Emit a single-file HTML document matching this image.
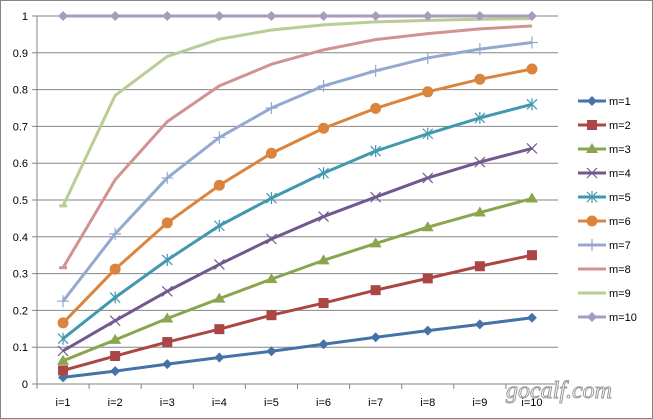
<!DOCTYPE html>
<html><head><meta charset="utf-8"><style>
html,body{margin:0;padding:0;background:#fff;}
svg{display:block;font-family:"Liberation Sans",sans-serif;}
</style></head><body>
<svg id="chart" width="653" height="419">
<rect x="0.5" y="0.5" width="652" height="418" fill="#fff" stroke="#868686"/>
<g id="grid"></g><g id="axes"></g><g id="series"></g><g id="legend"></g>
<text x="506" y="398" font-size="24" font-style="italic" fill="#fff" stroke="#999" stroke-width="1" font-family="'Liberation Serif',serif">gocalf.com</text>
</svg>
<script>
const categories=["i=1","i=2","i=3","i=4","i=5","i=6","i=7","i=8","i=9","i=10"];
const yTicks=[0,0.1,0.2,0.3,0.4,0.5,0.6,0.7,0.8,0.9,1];
const yTickLabels=["0","0.1","0.2","0.3","0.4","0.5","0.6","0.7","0.8","0.9","1"];
const seriesNames=["m=1","m=2","m=3","m=4","m=5","m=6","m=7","m=8","m=9","m=10"];
const m1=[.018,.035,.054,.072,.089,.108,.127,.145,.162,.180];
const m2=[.037,.076,.114,.149,.187,.220,.255,.287,.320,.350];
const m3=[.063,.120,.178,.232,.285,.336,.382,.426,.466,.504];
const m4=[.090,.172,.252,.325,.394,.455,.508,.560,.603,.640];
const m5=[.123,.235,.337,.430,.505,.573,.633,.680,.723,.760];
const m6=[.166,.312,.438,.540,.627,.695,.749,.794,.828,.856];
const m7=[.225,.408,.560,.670,.750,.810,.851,.886,.910,.928];
const m8=[.316,.555,.713,.810,.869,.908,.936,.952,.965,.973];
const m9=[.484,.784,.890,.937,.962,.976,.984,.988,.991,.993];
const m10=[1,1,1,1,1,1,1,1,1,1];
const allSeries=[m1,m2,m3,m4,m5,m6,m7,m8,m9,m10];
const colors=["#4572a7","#aa4643","#89a54e","#71588f","#4198af","#db843d","#93a9cf","#d19392","#b9cd96","#a99bbd"];
const markers=["diamond","square","triangle","x","star","circle","plus","none","none","diamond"];
const NS="http://www.w3.org/2000/svg";
const L=37,R=558,T=16,B=384;
const step=(R-L)/categories.length;
const xS=i=>L+step*(i+0.5);
const yS=v=>B-(B-T)*v;
function mk(tag,attrs,parent){const e=document.createElementNS(NS,tag);for(const k in attrs)e.setAttribute(k,attrs[k]);parent.appendChild(e);return e;}
const grid=document.getElementById('grid'),axes=document.getElementById('axes'),ser=document.getElementById('series'),leg=document.getElementById('legend');
yTicks.forEach((t,i)=>{
 const y=yS(t);
 if(t>0){const g=mk('line',{x1:L,x2:R,y1:y,y2:y,stroke:'#868686','stroke-width':1},grid);
 
 }
 const tk=mk('line',{x1:L-5,x2:L,y1:y,y2:y,stroke:'#868686'},axes);
 
 
 const tx=mk('text',{x:L-9,y:y+4,'text-anchor':'end','font-size':11,fill:'#000'},axes);
 tx.textContent=yTickLabels[i];
 
 
});
const ya=mk('line',{x1:L,x2:L,y1:T,y2:B,stroke:'#868686'},axes);


const xa=mk('line',{x1:L,x2:R,y1:B,y2:B,stroke:'#868686'},axes);


for(let i=0;i<=categories.length;i++){
 const x=L+step*i;
 const tk=mk('line',{x1:x,x2:x,y1:B,y2:B+5,stroke:'#868686'},axes);
 
 
}
categories.forEach((c,i)=>{
 const tx=mk('text',{x:xS(i),y:B+22,'text-anchor':'middle','font-size':11,fill:'#000'},axes);
 tx.textContent=c;
 
 
});
function marker(type,x,y,col,parent){
 let e=null;
 if(type==='diamond')e=mk('path',{d:`M${x} ${y-5}L${x+5} ${y}L${x} ${y+5}L${x-5} ${y}Z`,fill:col},parent);
 else if(type==='square')e=mk('rect',{x:x-5,y:y-5,width:10,height:10,fill:col},parent);
 else if(type==='triangle')e=mk('path',{d:`M${x} ${y-6}L${x+6} ${y+4}L${x-6} ${y+4}Z`,fill:col},parent);
 else if(type==='circle')e=mk('circle',{cx:x,cy:y,r:5.5,fill:col},parent);
 else if(type==='x')e=mk('path',{d:`M${x-5} ${y-5}L${x+5} ${y+5}M${x-5} ${y+5}L${x+5} ${y-5}`,stroke:col,'stroke-width':1.2,fill:'none'},parent);
 else if(type==='plus')e=mk('path',{d:`M${x-6} ${y}L${x+6} ${y}M${x} ${y-6}L${x} ${y+6}`,stroke:col,'stroke-width':1.2,fill:'none'},parent);
 else if(type==='star')e=mk('path',{d:`M${x-5} ${y-5}L${x+5} ${y+5}M${x-5} ${y+5}L${x+5} ${y-5}M${x} ${y-6}L${x} ${y+6}`,stroke:col,'stroke-width':1.2,fill:'none'},parent);
 return e;
}
allSeries.forEach((data,s)=>{
 const g=mk('g',{},ser);
 
 
 const pts=data.map((v,i)=>xS(i)+','+yS(v)).join(' ');
 const pl=mk('polyline',{points:pts,fill:'none',stroke:colors[s],'stroke-width':3,'stroke-linejoin':'round'},g);
 
 
 data.forEach((v,i)=>{
  let m=marker(markers[s],xS(i),yS(v),colors[s],g);
  if(!m&&i===0)m=mk('rect',{x:xS(i)-4,y:yS(v)-1.5,width:8,height:3,fill:colors[s]},g);
  if(m){
   
   
  }
 });
 const ly=101+s*24;
 const lg=mk('g',{},leg);
 
 
 mk('line',{x1:578,x2:606,y1:ly,y2:ly,stroke:colors[s],'stroke-width':3},lg);
 marker(markers[s],592,ly,colors[s],lg);
 const t=mk('text',{x:609,y:ly+4,'font-size':11,fill:'#000'},lg);
 t.textContent=seriesNames[s];
});
</script>
</body></html>
